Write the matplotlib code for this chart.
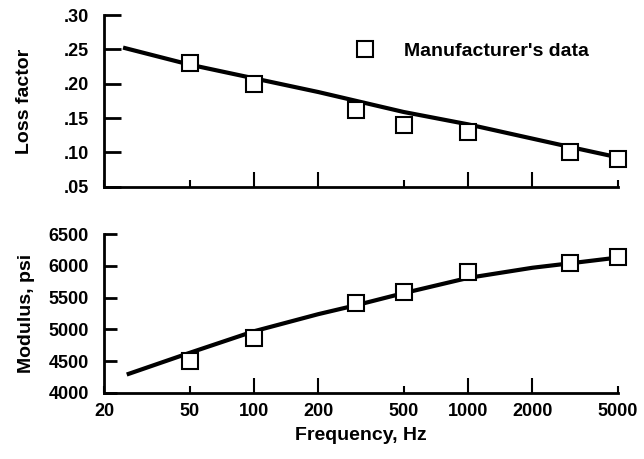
import numpy as np
import matplotlib.pyplot as plt
from matplotlib.ticker import FixedLocator, FixedFormatter, NullFormatter

plt.rcParams['font.family'] = ['Liberation Sans', 'DejaVu Sans']
plt.rcParams['font.weight'] = 'bold'

# measured points (manufacturer's data)
freqData = [50, 100, 300, 500, 1000, 3000, 5000]
lossData = [0.23, 0.20, 0.162, 0.14, 0.13, 0.10, 0.09]
modData = [4510, 4870, 5410, 5590, 5910, 6040, 6140]

# fitted curves
freqLoss = [25, 50, 100, 200, 500, 1000, 3000, 5000]
lossFit = [0.252, 0.228, 0.208, 0.188, 0.159, 0.141, 0.108, 0.093]
freqMod = [26, 50, 100, 200, 300, 500, 1000, 2000, 3000, 5000]
modFit = [4300, 4630, 4970, 5240, 5380, 5570, 5810, 5970, 6040, 6130]

majorX = [100, 200, 1000, 2000]
minorX = [20, 50, 500, 5000]

fig = plt.figure(figsize=(6.44, 4.59), dpi=100)
ax1 = fig.add_axes([0.162, 0.593, 0.797, 0.374])
ax2 = fig.add_axes([0.162, 0.144, 0.797, 0.346])

def styleAxis(ax, ylen):
    ax.set_xscale('log')
    ax.set_xlim(20, 5000)
    for s in ['top', 'right']:
        ax.spines[s].set_visible(False)
    for s in ['left', 'bottom']:
        ax.spines[s].set_linewidth(2)
    ax.xaxis.set_major_locator(FixedLocator(majorX))
    ax.xaxis.set_minor_locator(FixedLocator(minorX))
    ax.tick_params(axis='x', which='major', direction='in', length=11, width=1.5, pad=7, labelsize=13)
    ax.tick_params(axis='x', which='minor', direction='in', length=5, width=1.5, pad=7, labelsize=13)
    ax.tick_params(axis='y', direction='in', length=ylen, width=2, pad=11, labelsize=13)

styleAxis(ax1, 12)
styleAxis(ax2, 9)

ax1.xaxis.set_major_formatter(NullFormatter())
ax1.xaxis.set_minor_formatter(NullFormatter())
ax2.xaxis.set_major_formatter(FixedFormatter([str(v) for v in majorX]))
ax2.xaxis.set_minor_formatter(FixedFormatter([str(v) for v in minorX]))

# top: loss factor
ax1.plot(freqLoss, lossFit, 'k-', linewidth=3)
ax1.plot(freqData, lossData, 's', markersize=11, markerfacecolor='white',
         markeredgecolor='black', markeredgewidth=1.5, clip_on=False,
         label="Manufacturer's data")
ax1.set_ylim(0.05, 0.30)
ax1.set_yticks([0.05, 0.10, 0.15, 0.20, 0.25, 0.30])
ax1.set_yticklabels(['.05', '.10', '.15', '.20', '.25', '.30'])
ax1.set_ylabel('Loss factor', fontsize=14, fontweight='bold', labelpad=22)
ax1.legend(loc='upper right', bbox_to_anchor=(0.978, 0.945), frameon=False,
           fontsize=14, handletextpad=1.4, handlelength=1.2)

# bottom: modulus
ax2.plot(freqMod, modFit, 'k-', linewidth=3)
ax2.plot(freqData, modData, 's', markersize=11, markerfacecolor='white',
         markeredgecolor='black', markeredgewidth=1.5, clip_on=False)
ax2.set_ylim(4000, 6500)
ax2.set_yticks([4000, 4500, 5000, 5500, 6000, 6500])
ax2.set_ylabel('Modulus, psi', fontsize=14, fontweight='bold', labelpad=10)
ax2.set_xlabel('Frequency, Hz', fontsize=14, fontweight='bold', labelpad=5)

fig.savefig('out.png', dpi=100)
